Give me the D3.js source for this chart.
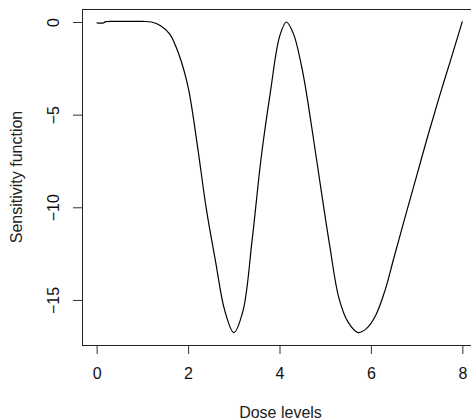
<!DOCTYPE html>
<html>
<head>
<meta charset="utf-8">
<script src="https://cdn.jsdelivr.net/npm/d3@7"></script>
<style>
  body { margin: 0; background: #fff; }
  text { font-family: "Liberation Sans", Arial, sans-serif; }
</style>
</head>
<body>
<div id="plotDiv"></div>
<script>
// sensitivity function
const doseLevels = [0, 0.15, 0.2, 0.5, 1.0, 1.2, 1.4, 1.6, 1.8, 2.0, 2.2, 2.4, 2.6, 2.8, 3.0, 3.2, 3.4, 3.6, 3.8, 4.0, 4.15,
  4.3, 4.5, 4.7, 4.9, 5.1, 5.3, 5.5, 5.72, 5.9, 6.1, 6.3, 6.5, 6.75, 7.0, 7.25, 7.5, 7.75, 8.0];
const sensitivity = [-0.05, -0.05, 0.02, 0.03, 0.03, 0.0, -0.2, -0.65, -1.75, -3.5, -6.6, -10.1, -12.9, -15.55, -16.76, -15.6, -11.8, -7.3, -3.8, -0.8, 0.0,
  -0.6, -2.6, -5.6, -8.9, -12.1, -14.9, -16.2, -16.76, -16.55, -15.85, -14.55, -12.75, -10.5, -8.3, -6.1, -4.0, -2.0, 0.03];
const xTicks = [0, 2, 4, 6, 8];
const yTicks = [0, -5, -10, -15];

const width = 471, height = 420;
const margin = {top: 9, right: -6, bottom: 75, left: 82};
const fontSize = 16;

const svg = d3.select("#plotDiv").append("svg")
    .attr("width", width)
    .attr("height", height);

// R style: 4% padding on each side of the data range
const xMin = 0, xMax = 8;
const yMin = d3.min(sensitivity), yMax = d3.max(sensitivity);
const xPad = (xMax - xMin) * 0.04, yPad = (yMax - yMin) * 0.04;

const xScale = d3.scaleLinear()
    .domain([xMin - xPad, xMax + xPad])
    .range([margin.left, width - margin.right]);

const yScale = d3.scaleLinear()
    .domain([yMin - yPad, yMax + yPad])
    .range([height - margin.bottom, margin.top]);

// --- axes ---
const xAxis = d3.axisBottom(xScale).tickValues(xTicks).tickSize(9).tickSizeOuter(0).tickPadding(13.5);
const gx = svg.append("g")
    .attr("transform", `translate(0,${height - margin.bottom})`)
    .call(xAxis);
gx.select(".domain").remove();
gx.selectAll("line").attr("stroke", "#333");
gx.selectAll("text").attr("font-size", fontSize).attr("fill", "#111").attr("font-family", null);

const yAxis = d3.axisLeft(yScale).tickValues(yTicks).tickSize(9).tickSizeOuter(0);
const gy = svg.append("g")
    .attr("transform", `translate(${margin.left},0)`)
    .call(yAxis);
gy.select(".domain").remove();
gy.selectAll("line").attr("stroke", "#333");
gy.selectAll("text")
    .attr("font-size", fontSize).attr("fill", "#111").attr("font-family", null)
    .attr("x", null)
    .attr("text-anchor", "middle")
    .attr("transform", "translate(-29,0) rotate(-90)")
    .attr("dy", "0.35em");

// --- plot box ---
svg.append("rect")
    .attr("x", margin.left + 0.5)
    .attr("y", margin.top + 0.5)
    .attr("width", width - margin.right - margin.left)
    .attr("height", height - margin.bottom - margin.top)
    .attr("fill", "none")
    .attr("stroke", "#222");

// --- curve ---
const pts = doseLevels.map((d, i) => [d, sensitivity[i]]);
const line = d3.line()
    .x(d => xScale(d[0]))
    .y(d => yScale(d[1]))
    .curve(d3.curveCatmullRom.alpha(0.5));

svg.append("path")
    .datum(pts)
    .attr("d", line)
    .attr("fill", "none")
    .attr("stroke", "#000")
    .attr("stroke-width", 1.2);

// --- axis titles ---
svg.append("text")
    .attr("x", (margin.left + xScale(8.32)) / 2 + 1)
    .attr("y", 418)
    .attr("text-anchor", "middle")
    .attr("font-size", fontSize)
    .attr("fill", "#222")
    .text("Dose levels");

svg.append("text")
    .attr("transform", `translate(21.5,${(margin.top + height - margin.bottom) / 2}) rotate(-90)`)
    .attr("text-anchor", "middle")
    .attr("font-size", fontSize)
    .attr("fill", "#222")
    .text("Sensitivity function");
</script>
</body>
</html>
